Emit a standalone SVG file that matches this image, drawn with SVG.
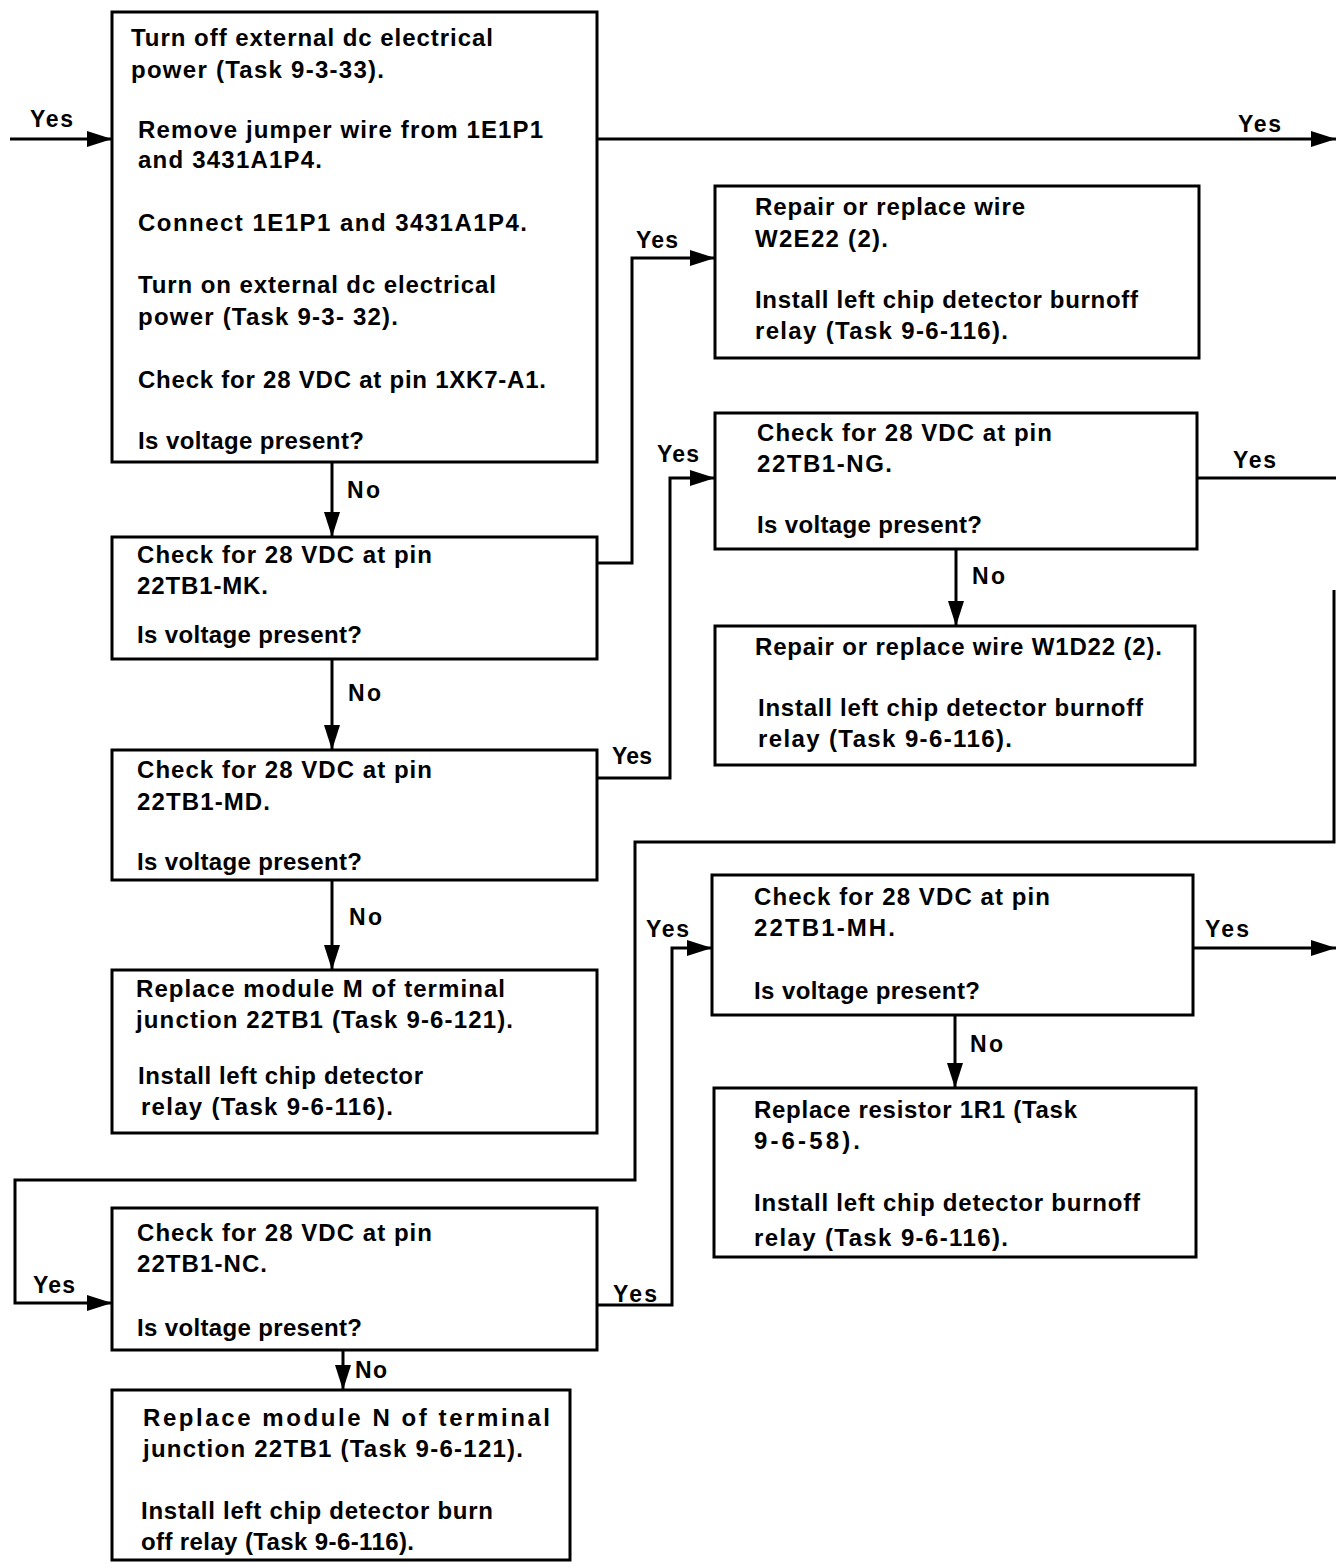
<svg xmlns="http://www.w3.org/2000/svg" width="1336" height="1564" viewBox="0 0 1336 1564">
<style>
.box{fill:#fff;stroke:#000;stroke-width:3}
.c{fill:none;stroke:#000;stroke-width:3}
text{font-family:"Liberation Sans",Arial,Helvetica,sans-serif;font-size:24px;font-weight:bold;fill:#000}
.l{font-size:23px}
</style>
<defs>
<marker id="ah" markerUnits="userSpaceOnUse" markerWidth="26" markerHeight="18" refX="25" refY="9" orient="auto">
<path d="M0,1 L25,9 L0,17 z" fill="#000"/>
</marker>
</defs>
<rect width="1336" height="1564" fill="#fff"/>
<g id="connectors">
<path class="c" d="M10,139 H112" marker-end="url(#ah)"/>
<path class="c" d="M597,139 H1336" marker-end="url(#ah)"/>
<path class="c" d="M332,462 V537" marker-end="url(#ah)"/>
<path class="c" d="M597,563 H632 V258 H715" marker-end="url(#ah)"/>
<path class="c" d="M332,659 V750" marker-end="url(#ah)"/>
<path class="c" d="M597,778 H670 V478 H715" marker-end="url(#ah)"/>
<path class="c" d="M1197,478 H1336"/>
<path class="c" d="M956,549 V626" marker-end="url(#ah)"/>
<path class="c" d="M1334,590 V842 H635 V1180 H15 V1303 H112" marker-end="url(#ah)"/>
<path class="c" d="M332,880 V970" marker-end="url(#ah)"/>
<path class="c" d="M597,1305 H672 V948 H712" marker-end="url(#ah)"/>
<path class="c" d="M1193,948 H1336" marker-end="url(#ah)"/>
<path class="c" d="M955,1015 V1088" marker-end="url(#ah)"/>
<path class="c" d="M343,1350 V1390" marker-end="url(#ah)"/>
<text class="l" x="30" y="127" textLength="43" lengthAdjust="spacing">Yes</text>
<text class="l" x="1238" y="132" textLength="43" lengthAdjust="spacing">Yes</text>
<text class="l" x="347" y="498" textLength="33" lengthAdjust="spacing">No</text>
<text class="l" x="636" y="248" textLength="42" lengthAdjust="spacing">Yes</text>
<text class="l" x="657" y="462" textLength="42" lengthAdjust="spacing">Yes</text>
<text class="l" x="1233" y="468" textLength="43" lengthAdjust="spacing">Yes</text>
<text class="l" x="972" y="584" textLength="33" lengthAdjust="spacing">No</text>
<text class="l" x="348" y="701" textLength="33" lengthAdjust="spacing">No</text>
<text class="l" x="612" y="764" textLength="40" lengthAdjust="spacing">Yes</text>
<text class="l" x="349" y="925" textLength="33" lengthAdjust="spacing">No</text>
<text class="l" x="646" y="937" textLength="43" lengthAdjust="spacing">Yes</text>
<text class="l" x="1205" y="937" textLength="44" lengthAdjust="spacing">Yes</text>
<text class="l" x="970" y="1052" textLength="33" lengthAdjust="spacing">No</text>
<text class="l" x="33" y="1293" textLength="42" lengthAdjust="spacing">Yes</text>
<text class="l" x="613" y="1302" textLength="44" lengthAdjust="spacing">Yes</text>
<text class="l" x="355" y="1378" textLength="32" lengthAdjust="spacing">No</text>
</g>
<g id="n1">
<rect class="box" x="112" y="12" width="485" height="450"/>
<text x="131" y="46" textLength="362" lengthAdjust="spacing">Turn off external dc electrical</text>
<text x="131" y="78" textLength="253" lengthAdjust="spacing">power (Task 9-3-33).</text>
<text x="138" y="138" textLength="405" lengthAdjust="spacing">Remove jumper wire from 1E1P1</text>
<text x="138" y="168" textLength="184" lengthAdjust="spacing">and 3431A1P4.</text>
<text x="138" y="231" textLength="389" lengthAdjust="spacing">Connect 1E1P1 and 3431A1P4.</text>
<text x="138" y="293" textLength="358" lengthAdjust="spacing">Turn on external dc electrical</text>
<text x="138" y="325" textLength="260" lengthAdjust="spacing">power (Task 9-3- 32).</text>
<text x="138" y="388" textLength="408" lengthAdjust="spacing">Check for 28 VDC at pin 1XK7-A1.</text>
<text x="138" y="449" textLength="226" lengthAdjust="spacing">Is voltage present?</text>
</g>
<g id="n2">
<rect class="box" x="112" y="537" width="485" height="122"/>
<text x="137" y="563" textLength="295" lengthAdjust="spacing">Check for 28 VDC at pin</text>
<text x="137" y="594" textLength="131" lengthAdjust="spacing">22TB1-MK.</text>
<text x="137" y="643" textLength="225" lengthAdjust="spacing">Is voltage present?</text>
</g>
<g id="n3">
<rect class="box" x="112" y="750" width="485" height="130"/>
<text x="137" y="778" textLength="295" lengthAdjust="spacing">Check for 28 VDC at pin</text>
<text x="137" y="810" textLength="133" lengthAdjust="spacing">22TB1-MD.</text>
<text x="137" y="870" textLength="225" lengthAdjust="spacing">Is voltage present?</text>
</g>
<g id="n4">
<rect class="box" x="112" y="970" width="485" height="163"/>
<text x="136" y="997" textLength="369" lengthAdjust="spacing">Replace module M of terminal</text>
<text x="136" y="1028" textLength="377" lengthAdjust="spacing">junction 22TB1 (Task 9-6-121).</text>
<text x="138" y="1084" textLength="285" lengthAdjust="spacing">Install left chip detector</text>
<text x="141" y="1115" textLength="252" lengthAdjust="spacing">relay (Task 9-6-116).</text>
</g>
<g id="n5">
<rect class="box" x="112" y="1208" width="485" height="142"/>
<text x="137" y="1241" textLength="295" lengthAdjust="spacing">Check for 28 VDC at pin</text>
<text x="137" y="1272" textLength="130" lengthAdjust="spacing">22TB1-NC.</text>
<text x="137" y="1336" textLength="225" lengthAdjust="spacing">Is voltage present?</text>
</g>
<g id="n6">
<rect class="box" x="112" y="1390" width="458" height="170"/>
<text x="143" y="1426" textLength="407" lengthAdjust="spacing">Replace  module  N  of  terminal</text>
<text x="143" y="1457" textLength="380" lengthAdjust="spacing">junction 22TB1 (Task 9-6-121).</text>
<text x="141" y="1519" textLength="352" lengthAdjust="spacing">Install left chip detector burn</text>
<text x="141" y="1550" textLength="273" lengthAdjust="spacing">off  relay (Task 9-6-116).</text>
</g>
<g id="n7">
<rect class="box" x="715" y="186" width="484" height="172"/>
<text x="755" y="215" textLength="270" lengthAdjust="spacing">Repair or replace wire</text>
<text x="755" y="247" textLength="133" lengthAdjust="spacing">W2E22 (2).</text>
<text x="755" y="308" textLength="383" lengthAdjust="spacing">Install left chip detector burnoff</text>
<text x="755" y="339" textLength="253" lengthAdjust="spacing">relay (Task 9-6-116).</text>
</g>
<g id="n8">
<rect class="box" x="715" y="413" width="482" height="136"/>
<text x="757" y="441" textLength="295" lengthAdjust="spacing">Check for 28 VDC at pin</text>
<text x="757" y="472" textLength="135" lengthAdjust="spacing">22TB1-NG.</text>
<text x="757" y="533" textLength="225" lengthAdjust="spacing">Is voltage present?</text>
</g>
<g id="n9">
<rect class="box" x="715" y="626" width="480" height="139"/>
<text x="755" y="655" textLength="407" lengthAdjust="spacing">Repair or replace wire W1D22 (2).</text>
<text x="758" y="716" textLength="385" lengthAdjust="spacing">Install left chip detector burnoff</text>
<text x="758" y="747" textLength="254" lengthAdjust="spacing">relay (Task 9-6-116).</text>
</g>
<g id="n10">
<rect class="box" x="712" y="875" width="481" height="140"/>
<text x="754" y="905" textLength="296" lengthAdjust="spacing">Check for 28 VDC at pin</text>
<text x="754" y="936" textLength="141" lengthAdjust="spacing">22TB1-MH.</text>
<text x="754" y="999" textLength="226" lengthAdjust="spacing">Is voltage present?</text>
</g>
<g id="n11">
<rect class="box" x="714" y="1088" width="482" height="169"/>
<text x="754" y="1118" textLength="323" lengthAdjust="spacing">Replace resistor 1R1 (Task</text>
<text x="754" y="1149" textLength="106" lengthAdjust="spacing">9-6-58).</text>
<text x="754" y="1211" textLength="386" lengthAdjust="spacing">Install left chip detector burnoff</text>
<text x="754" y="1246" textLength="254" lengthAdjust="spacing">relay (Task 9-6-116).</text>
</g>
</svg>
